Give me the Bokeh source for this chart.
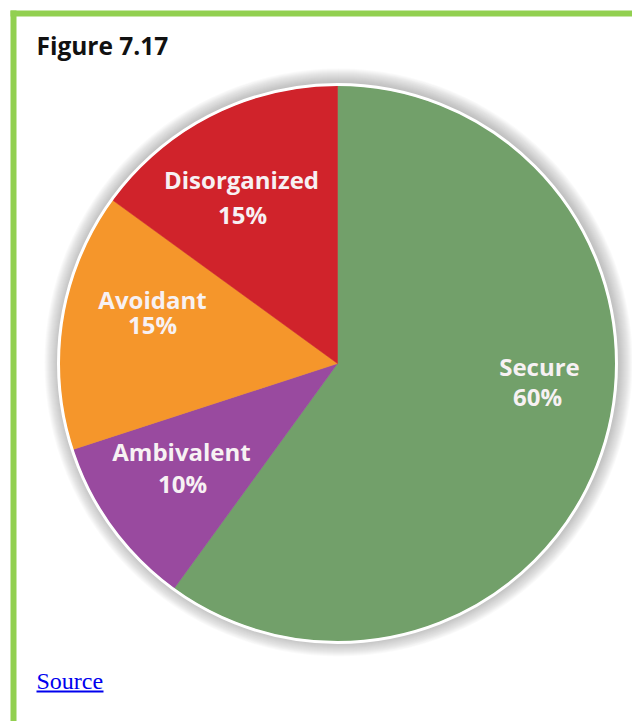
import numpy as np
from bokeh.plotting import figure
from bokeh.models import ColumnDataSource, Range1d
from bokeh.core.properties import value
from bokeh.embed import file_html
from bokeh.resources import INLINE

# ---- data ----
categories = ["Secure", "Ambivalent", "Avoidant", "Disorganized"]
percentages = [60, 10, 15, 15]
pct_labels = ["60%", "10%", "15%", "15%"]
colors = ["#72a06a", "#994a9f", "#f5962b", "#d0232b"]
title_text = "Figure 7.17"
source_text = "Source"

# ---- layout (screen pixels of the page) ----
W, H = 632, 721
def X(sx):
    return sx
def Y(sy):
    return H - sy

cx, cy, R = X(337), Y(363), 278
name_pos = [(539, 366), (181, 451), (152, 299), (241, 179)]
pct_pos = [(537, 396), (182, 483), (152, 324), (242, 214)]

p = figure(width=W, height=H, x_range=Range1d(0, W), y_range=Range1d(0, H),
           output_backend="svg", toolbar_location=None, min_border=0,
           x_axis_location=None, y_axis_location=None)
p.grid.visible = False
p.outline_line_color = None
p.background_fill_color = "white"
p.border_fill_color = "white"

# green frame
p.quad(left=[X(10)], right=[W], top=[Y(10)], bottom=[Y(16)], fill_color="#92d050", line_color=None)
p.quad(left=[X(10)], right=[X(16)], top=[Y(10)], bottom=[0], fill_color="#92d050", line_color=None)

# soft shadow around pie
for k in range(16, 0, -1):
    p.circle(x=[cx + 1], y=[cy + 1], radius=R + k, fill_color="#808088",
             fill_alpha=0.04, line_color=None)

# wedges
cum = np.cumsum([0] + percentages)
starts = [np.pi / 2 - 2 * np.pi * c / 100 for c in cum[:-1]]
ends = [np.pi / 2 - 2 * np.pi * c / 100 for c in cum[1:]]
src = ColumnDataSource(dict(start=starts, end=ends, color=colors, cat=categories))
p.wedge(x=cx, y=cy, radius=R, start_angle="start", end_angle="end", direction="clock",
        fill_color="color", line_color="color", line_width=0.5, source=src)

# white rim
p.circle(x=[cx], y=[cy], radius=R + 1, fill_color=None, line_color="white", line_width=3)

# labels
lab = ColumnDataSource(dict(
    nx=[X(a) for a, b in name_pos], ny=[Y(b) for a, b in name_pos], name=categories,
    px=[X(a) for a, b in pct_pos], py=[Y(b) for a, b in pct_pos], pct=pct_labels))
for xs, ys, ts in [("nx", "ny", "name"), ("px", "py", "pct")]:
    p.text(x=xs, y=ys, text=ts, source=lab, text_align="center", text_baseline="middle",
           text_font=value("Open Sans"), text_font_style="bold", text_font_size="24px",
           text_color="#f7f1f3")

# title
p.text(x=[X(36)], y=[Y(45)], text=[title_text], text_align="left", text_baseline="middle",
       text_font=value("Open Sans"), text_font_style="bold", text_font_size="24.5px",
       text_color="#111111")

# source link
p.text(x=[X(36)], y=[Y(680)], text=[source_text], text_align="left", text_baseline="middle",
       text_font=value("Liberation Serif"), text_font_size="24px", text_color="#0000ee")
p.quad(left=[X(36)], right=[X(103)], top=[Y(690)], bottom=[Y(692)], fill_color="#0000ee",
       line_color=None)

open("out.html", "w").write(file_html(p, INLINE))
